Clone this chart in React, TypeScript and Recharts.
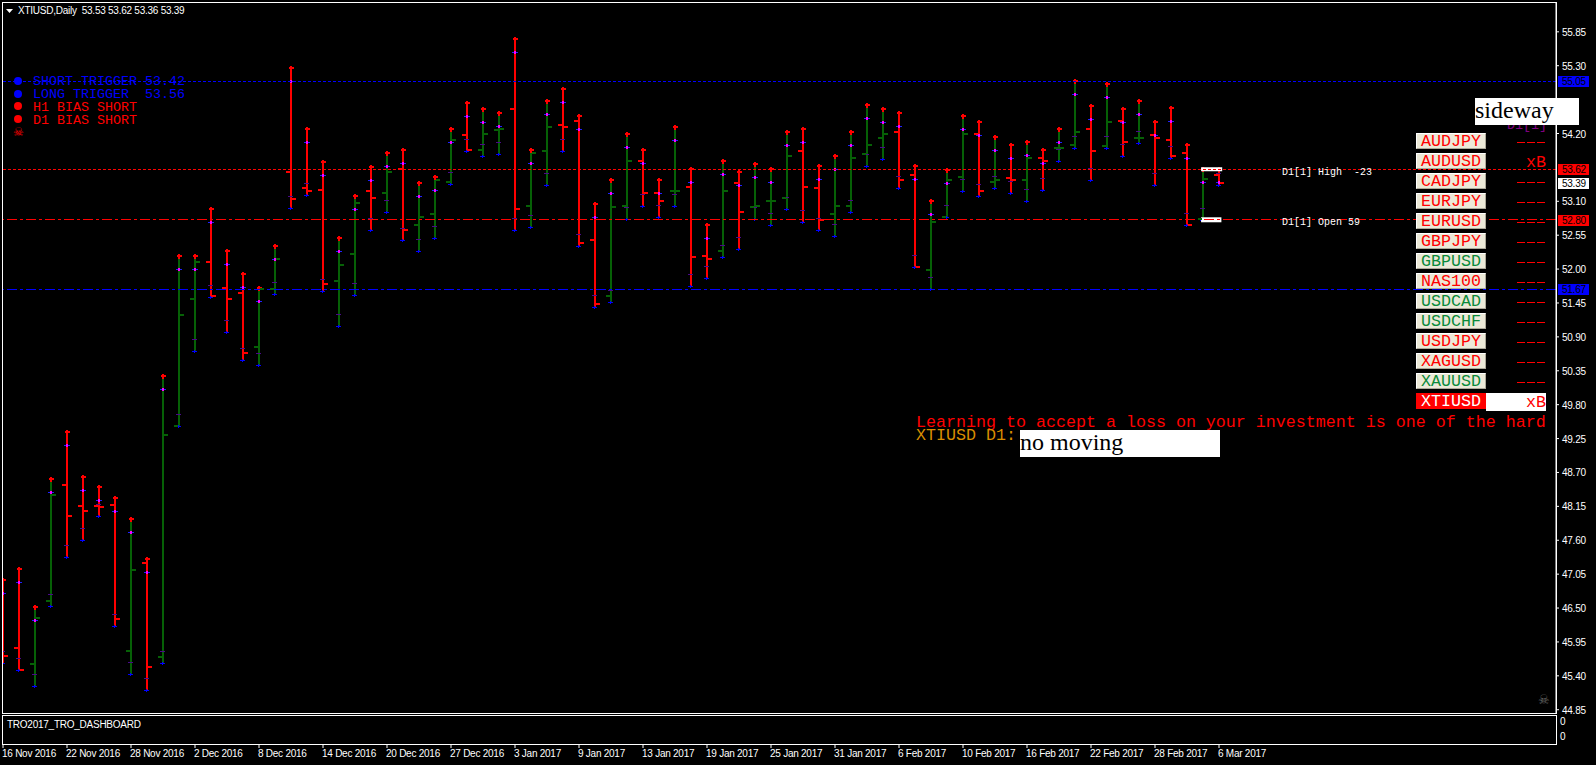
import React from "react";
import { ComposedChart, Bar, Line, XAxis, YAxis, ReferenceLine } from "recharts";

const dates = [
  "16 Nov 2016","17 Nov 2016","18 Nov 2016","21 Nov 2016","22 Nov 2016","23 Nov 2016","24 Nov 2016","25 Nov 2016",
  "28 Nov 2016","29 Nov 2016","30 Nov 2016","1 Dec 2016","2 Dec 2016","5 Dec 2016","6 Dec 2016","7 Dec 2016",
  "8 Dec 2016","9 Dec 2016","12 Dec 2016","13 Dec 2016","14 Dec 2016","15 Dec 2016","16 Dec 2016","19 Dec 2016",
  "20 Dec 2016","21 Dec 2016","22 Dec 2016","23 Dec 2016","27 Dec 2016","28 Dec 2016","29 Dec 2016","30 Dec 2016",
  "3 Jan 2017","4 Jan 2017","5 Jan 2017","6 Jan 2017","9 Jan 2017","10 Jan 2017","11 Jan 2017","12 Jan 2017",
  "13 Jan 2017","16 Jan 2017","17 Jan 2017","18 Jan 2017","19 Jan 2017","20 Jan 2017","23 Jan 2017","24 Jan 2017",
  "25 Jan 2017","26 Jan 2017","27 Jan 2017","30 Jan 2017","31 Jan 2017","1 Feb 2017","2 Feb 2017","3 Feb 2017",
  "6 Feb 2017","7 Feb 2017","8 Feb 2017","9 Feb 2017","10 Feb 2017","13 Feb 2017","14 Feb 2017","15 Feb 2017",
  "16 Feb 2017","17 Feb 2017","20 Feb 2017","21 Feb 2017","22 Feb 2017","23 Feb 2017","24 Feb 2017","27 Feb 2017",
  "28 Feb 2017","1 Mar 2017","2 Mar 2017","3 Mar 2017","6 Mar 2017",
];
const highs = [
  46.95,47.14,46.51,48.60,49.35,48.63,48.46,48.28,47.94,47.30,50.27,52.22,52.22,52.98,52.29,51.92,51.70,52.38,55.27,54.28,
  53.73,52.51,53.18,53.66,53.89,53.94,53.39,53.49,54.27,54.69,54.59,54.54,55.74,53.94,54.72,54.93,54.48,53.06,53.45,54.20,
  53.94,53.45,54.31,53.63,52.71,53.75,53.58,53.70,53.63,54.23,54.28,53.68,53.84,54.22,54.67,54.59,54.54,53.68,53.10,53.60,
  54.49,54.38,54.15,54.01,54.07,53.94,54.27,55.06,54.65,55.00,54.59,54.72,54.38,54.61,54.02,53.62,53.62,
];
const lows = [
  45.61,45.50,45.23,46.54,47.33,47.60,47.99,46.21,45.43,45.17,45.61,49.45,50.67,51.55,50.98,50.52,50.44,51.59,52.99,53.20,
  51.65,51.07,51.58,52.63,52.93,52.48,52.29,52.50,53.38,53.91,53.83,53.86,52.64,52.69,53.37,53.91,52.38,51.39,51.47,52.82,
  53.02,52.84,53.02,51.73,51.85,52.20,52.33,52.82,52.72,52.97,52.77,52.64,52.53,52.93,53.68,53.78,53.31,52.04,51.67,52.85,
  53.27,53.19,53.32,53.23,53.11,53.29,53.75,53.96,53.44,53.96,53.84,54.04,53.36,53.81,52.72,52.80,53.36,
];
const opens = [
  46.60,45.85,45.59,46.62,48.50,48.15,48.15,48.18,45.81,47.23,45.70,49.45,51.51,52.11,51.70,51.62,50.74,51.67,53.57,53.31,
  53.29,51.81,52.24,53.27,53.24,53.62,52.72,52.90,53.42,54.18,53.94,54.25,54.59,53.02,53.91,54.33,54.40,52.48,51.56,53.02,
  53.76,53.24,53.27,53.34,52.22,52.29,53.39,53.00,53.10,53.15,53.91,53.31,52.89,53.03,53.86,54.12,54.22,53.53,51.99,52.85,
  53.49,54.20,53.42,53.47,53.45,53.81,53.97,54.01,54.27,53.99,54.40,54.12,54.17,54.09,53.88,52.81,53.53,
];
const closes = [
  45.73,45.49,46.34,48.33,48.00,48.08,48.14,46.32,47.11,45.54,49.30,51.25,52.11,51.56,51.52,50.64,51.67,52.17,53.13,53.27,
  51.75,52.07,53.08,53.15,53.58,52.63,52.84,53.44,54.10,53.94,54.20,54.28,52.97,53.88,54.30,54.30,52.42,51.43,53.00,53.75,
  53.24,53.11,53.27,52.20,52.17,53.27,52.93,53.03,53.10,53.83,53.34,52.80,53.03,53.81,54.01,54.20,53.45,52.04,52.77,53.44,
  54.20,53.27,53.44,53.45,53.81,53.75,53.97,54.23,53.92,54.38,54.07,54.12,54.12,53.84,52.72,53.46,53.39,
];
const yTicks = [55.85,55.30,54.20,53.10,52.55,52.00,51.45,50.90,50.35,49.80,49.25,48.70,48.15,47.60,47.05,46.50,45.95,45.40,44.85];
const xTicks = [0,4,8,12,16,20,24,28,32,36,40,44,48,52,56,60,64,68,72,76];
const symbols = ["AUDJPY","AUDUSD","CADJPY","EURJPY","EURUSD","GBPJPY","GBPUSD","NAS100","USDCAD","USDCHF","USDJPY","XAGUSD","XAUUSD","XTIUSD"];
const symbolUp = [false,false,false,false,false,false,true,false,true,true,false,false,true,false];
const symbolState = ["---","xB","---","---","---","---","---","---","---","---","---","---","---","xB"];

const UP = "#066106";
const DOWN = "#ff0000";
const data = dates.map((d, i) => ({
  idx: i, date: d, open: opens[i], close: closes[i], range: [lows[i], highs[i]],
  color: closes[i] >= opens[i] ? UP : DOWN,
}));

const MONO = "'Liberation Mono', monospace";
const SANS = "'Liberation Sans', sans-serif";
const SERIF = "'Liberation Serif', serif";
const LABEL = 10;
const TRACK = -0.25;

const Stem = (p: any) => {
  const cx = p.x + p.width / 2;
  const top = Math.round(p.y);
  const bottom = Math.round(p.y + p.height);
  const x = Math.round(cx);
  return (
    <g shapeRendering="crispEdges">
      <rect x={x - 1} y={top} width={2} height={bottom - top} fill={p.payload.color} />
      <rect x={x - 2} y={top - 1} width={5} height={2} fill="#ff0000" />
      <rect x={x - 1} y={top - 2} width={2} height={5} fill="#ff0000" />
      <rect x={x - 3} y={top + 13} width={6} height={1} fill="#2020ff" />
      <rect x={x - 1} y={top + 12} width={2} height={3} fill="#ff00ff" />
      <rect x={x - 3} y={bottom - 12} width={5} height={1} fill="#4a0a8a" />
      <rect x={x - 3} y={bottom} width={5} height={1} fill="#0000ff" />
      <rect x={x - 1} y={bottom - 1} width={1} height={3} fill="#0000ff" />
    </g>
  );
};

const OpenTick = (p: any) => (
  <rect key={"o" + p.index} x={Math.round(p.cx) - 5} y={Math.round(p.cy) - 1} width={4} height={2} fill={p.payload.color} shapeRendering="crispEdges" />
);
const CloseTick = (p: any) => (
  <rect key={"c" + p.index} x={Math.round(p.cx) + 1} y={Math.round(p.cy) - 1} width={4} height={2} fill={p.payload.color} shapeRendering="crispEdges" />
);

const TimeTick = (p: any) => (
  <g>
    <line x1={p.x} x2={p.x} y1={744} y2={748} stroke="#fff" />
    <text x={p.x - 1} y={757} fill="#fff" fontFamily={SANS} fontSize={LABEL} letterSpacing={TRACK}>{dates[p.payload.value]}</text>
  </g>
);
const PriceTick = (p: any) => (
  <g>
    <text x={1562} y={p.y + 4} fill="#fff" fontFamily={SANS} fontSize={LABEL} letterSpacing={TRACK}>{Number(p.payload.value).toFixed(2)}</text>
  </g>
);

const tag = (bg: string, text: string) => (p: any) => {
  const y = Math.round(p.viewBox.y);
  return (
    <g>
      <rect x={1558} y={y - 5} width={31} height={11} fill={bg} shapeRendering="crispEdges" />
      <text x={1562} y={y + 4} fill="#000" fontFamily={SANS} fontSize={LABEL} letterSpacing={TRACK}>{text}</text>
    </g>
  );
};

const abs = (left: number, top: number, extra: React.CSSProperties = {}): React.CSSProperties => ({
  position: "absolute", left, top, whiteSpace: "pre", ...extra,
});
const mono = (size: number, color: string): React.CSSProperties => ({
  fontFamily: MONO, fontSize: size, color, lineHeight: 1,
});
const small: React.CSSProperties = { fontFamily: SANS, fontSize: LABEL, letterSpacing: TRACK, color: "#fff", lineHeight: "12px" };

export default function App() {
  return (
    <div style={{ position: "absolute", left: 0, top: 0, width: 1596, height: 765, background: "#000", overflow: "hidden" }}>
      <style>{"html,body{margin:0;background:#000}"}</style>
      <ComposedChart width={1596} height={765} data={data} margin={{ top: 3, right: 0, bottom: 0, left: 3 }}>
        <XAxis dataKey="idx" type="number" domain={[0, 97.0625]} ticks={xTicks} interval={0} height={52}
          axisLine={false} tickLine={false} tick={TimeTick} allowDataOverflow />
        <YAxis orientation="right" type="number" domain={[44.797, 56.3176]} ticks={yTicks} interval={0} width={40}
          axisLine={{ stroke: "#fff" }} tickLine={{ stroke: "#fff" }} tickSize={3} tick={PriceTick} allowDataOverflow />
        <ReferenceLine segment={[{ x: 74.88, y: 53.62 }, { x: 76.2, y: 53.62 }]} stroke="#fff" strokeWidth={4} />
        <ReferenceLine segment={[{ x: 74.88, y: 52.80 }, { x: 76.15, y: 52.80 }]} stroke="#fff" strokeWidth={5} />
        <ReferenceLine y={55.05} stroke="#0000ff" strokeWidth={1} strokeDasharray="3 2" shapeRendering="crispEdges" label={tag("#0000ff", "55.05")} />
        <ReferenceLine y={53.62} stroke="#ff0000" strokeWidth={1} strokeDasharray="3 2" shapeRendering="crispEdges" label={tag("#ff0000", "53.62")} />
        <ReferenceLine y={53.39} stroke="none" label={tag("#ffffff", "53.39")} />
        <ReferenceLine y={52.80} stroke="#ff0000" strokeWidth={1} strokeDasharray="10 3 3 3" shapeRendering="crispEdges" label={tag("#ff0000", "52.80")} />
        <ReferenceLine y={51.67} stroke="#0000ff" strokeWidth={1} strokeDasharray="10 3 3 3" shapeRendering="crispEdges" label={tag("#0000ff", "51.67")} />
        <Bar dataKey="range" barSize={2} shape={Stem} isAnimationActive={false} />
        <Line dataKey="open" stroke="none" dot={OpenTick} activeDot={false} isAnimationActive={false} />
        <Line dataKey="close" stroke="none" dot={CloseTick} activeDot={false} isAnimationActive={false} />
      </ComposedChart>

      <div style={abs(2, 2, { width: 1555, height: 712, border: "1px solid #fff", boxSizing: "border-box", pointerEvents: "none" })} />
      <div style={abs(2, 715, { width: 1555, height: 30, border: "1px solid #fff", boxSizing: "border-box", pointerEvents: "none" })} />

      <svg style={abs(6, 9)} width={8} height={4}><polygon points="0,0 7,0 3.5,4" fill="#fff" /></svg>
      <div style={abs(18, 5, small)}>XTIUSD,Daily  53.53 53.62 53.36 53.39</div>
      <div style={abs(7, 719, small)}>TRO2017_TRO_DASHBOARD</div>
      <div style={abs(1560, 716, small)}>0</div>
      <div style={abs(1560, 731, small)}>0</div>

      {[["#0000ff", 81], ["#0000ff", 94], ["#ff0000", 106], ["#ff0000", 119]].map(([c, y], i) => (
        <div key={i} style={abs(14, (y as number) - 4, { width: 8, height: 8, borderRadius: 4, background: c as string })} />
      ))}
      <div style={abs(33, 75, mono(13.33, "#0000ff"))}>SHORT TRIGGER 53.42</div>
      <div style={abs(33, 88, mono(13.33, "#0000ff"))}>LONG TRIGGER  53.56</div>
      <div style={abs(33, 101, mono(13.33, "#ff0000"))}>H1 BIAS SHORT</div>
      <div style={abs(33, 114, mono(13.33, "#ff0000"))}>D1 BIAS SHORT</div>
      <div style={abs(13, 125, { fontFamily: "'DejaVu Sans'", fontSize: 12, color: "#ff0000", lineHeight: "14px" })}>☠</div>
      <div style={abs(1538, 692, { fontFamily: "'DejaVu Sans'", fontSize: 13, color: "#666", lineHeight: "15px" })}>☠</div>

      <div style={abs(1282, 168, mono(10, "#fff"))}>D1[1] High  -23</div>
      <div style={abs(1282, 218, mono(10, "#fff"))}>D1[1] Open 59</div>

      <div style={abs(1507, 119, mono(13.33, "#800080"))}>D1[1]</div>
      <div style={abs(1475, 98, { width: 104, height: 27, background: "#fff", color: "#000", fontFamily: SERIF, fontSize: 24, lineHeight: "25px" })}>sideway</div>

      {symbols.map((s, i) => {
        const top = 133 + 20 * i;
        const active = s === "XTIUSD";
        return (
          <React.Fragment key={s}>
            <div style={abs(1416, top, {
              width: 70, height: 16, boxSizing: "border-box", textAlign: "center",
              background: active ? "#ff0000" : "#ece9d8",
              borderTop: `1px solid ${active ? "#ff0000" : "#fff"}`, borderLeft: `1px solid ${active ? "#ff0000" : "#fff"}`,
              borderBottom: `1px solid ${active ? "#ff0000" : "#aca899"}`, borderRight: `1px solid ${active ? "#ff0000" : "#aca899"}`,
              fontFamily: MONO, fontSize: 16.67, lineHeight: "16px",
              color: active ? "#fff" : symbolUp[i] ? "#0a8a3a" : "#ff0000",
            })}>{s}</div>
            {active && <div style={abs(1486, top, { width: 60, height: 18, background: "#fff" })} />}
            {symbolState[i] === "xB"
              ? <div style={abs(1526, top + 2, mono(16.67, "#ff0000"))}>xB</div>
              : <div style={abs(1517, top + 9, { width: 28, height: 1, background: "repeating-linear-gradient(90deg,#ff0000 0 8px,transparent 8px 10px)" })} />}
          </React.Fragment>
        );
      })}

      <div style={abs(916, 415, mono(16.67, "#ff0000"))}>Learning to accept a loss on your investment is one of the hard</div>
      <div style={abs(916, 428, mono(16.67, "#d98e00"))}>XTIUSD D1:</div>
      <div style={abs(1020, 430, { width: 200, height: 27, background: "#fff", color: "#000", fontFamily: SERIF, fontSize: 24, lineHeight: "25px" })}>no moving</div>
    </div>
  );
}
